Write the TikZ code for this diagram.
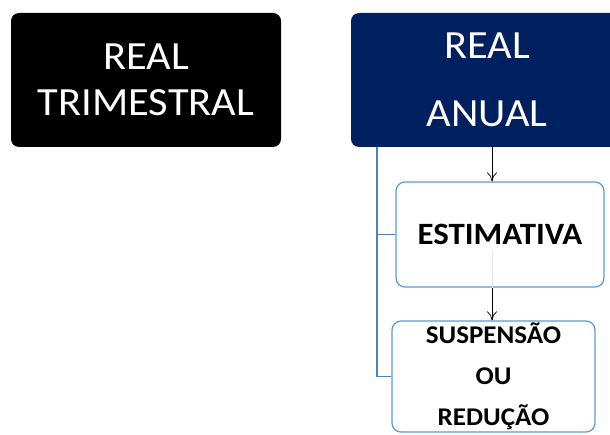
\documentclass[tikz,border=0pt]{standalone}
\usepackage{fontspec}
\setmainfont{Carlito}[FakeStretch=1.06]
\usepackage{xcolor}
\usetikzlibrary{arrows.meta, positioning}
\definecolor{navy}{HTML}{002060}
\definecolor{lineblue}{HTML}{5B9BD5}
\definecolor{treeblue}{HTML}{4F81BD}

\begin{document}
\begin{tikzpicture}[
    x=1pt, y=1pt,
    >={To[length=9pt, width=10pt]},
    topbox/.style={rectangle, rounded corners=8pt, text=white, align=center, inner sep=0pt,
                   minimum height=134pt, font=\fontsize{40}{46}\selectfont},
    subbox/.style={rectangle, rounded corners=9pt, draw=lineblue, line width=1.2pt, fill=white,
                   align=center, inner sep=0pt, font=\bfseries\fontsize{31}{41}\selectfont},
    arr/.style={->, black, line width=0.7pt},
    tree/.style={draw=treeblue, line width=1.2pt}
]
\useasboundingbox (0,0) rectangle (610,434);

\node[topbox, fill=black, minimum width=270pt] (trim) at (146,354) {REAL\\TRIMESTRAL};
\node[topbox, fill=navy, minimum width=272pt, font=\fontsize{40}{68}\selectfont] (anual) at (487,354) {REAL\\ANUAL};

\node[subbox, minimum width=208pt, minimum height=105pt] (est) at (500,199.5) {ESTIMATIVA};
\node[subbox, minimum width=203pt, minimum height=111pt, font=\bfseries\fontsize{25.5}{41}\selectfont]
    (susp) at (493.5,57.5) {SUSPENSÃO\\OU\\REDUÇÃO};

\coordinate (ax) at (492,0);
\coordinate (tx) at (377,0);

% tree on the left
\draw[tree] (tx |- anual.south) |- (susp.west);
\draw[tree] (tx |- est.west) -- (est.west);

% arrows down the middle
\draw[arr] (ax |- anual.south) -- (ax |- est.north);
\draw[black!10, line width=0.6pt] (492,184) -- (ax |- est.south);
\draw[arr] (ax |- est.south) -- (ax |- susp.north);
\end{tikzpicture}
\end{document}
